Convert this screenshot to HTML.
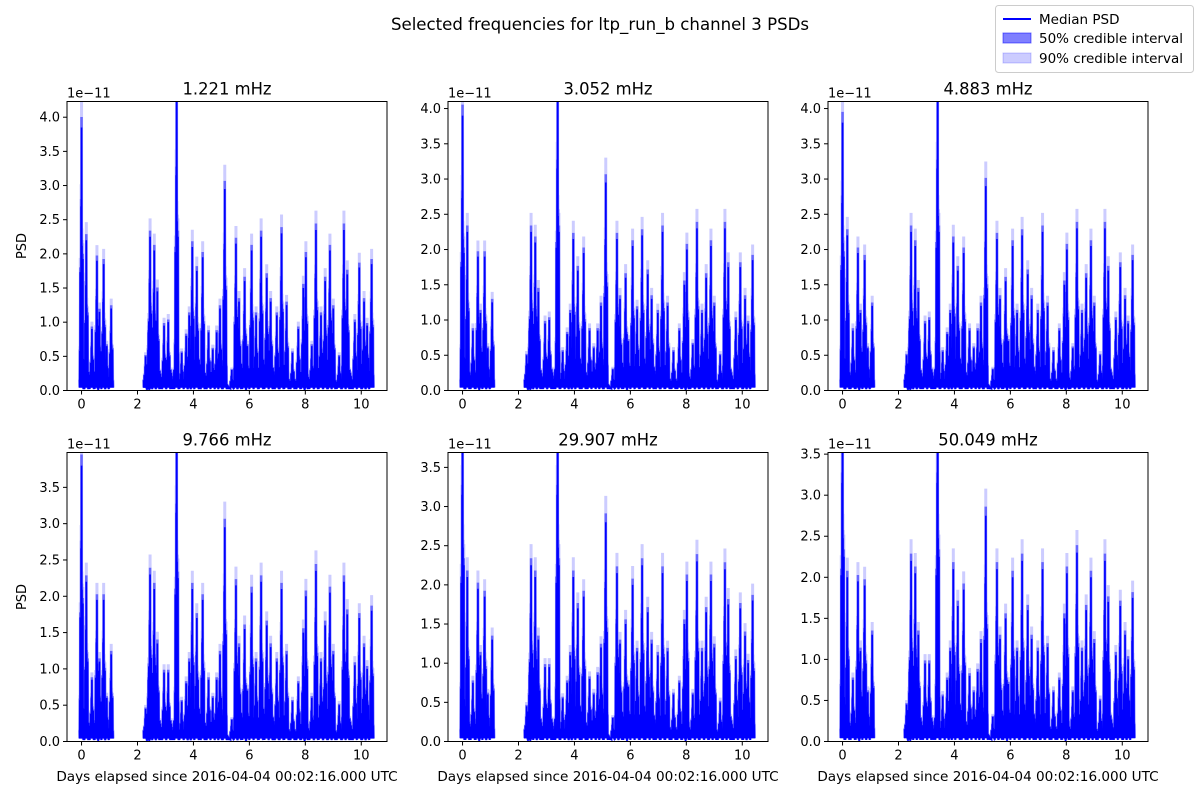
<!DOCTYPE html>
<html><head><meta charset="utf-8">
<style>
body{margin:0;background:#fff;font-family:"Liberation Sans","DejaVu Sans",sans-serif;}
svg text{font-family:"DejaVu Sans","Liberation Sans",sans-serif;fill:#000;}
</style></head>
<body>
<svg id="fig" width="1200" height="800" viewBox="0 0 1200 800" xmlns="http://www.w3.org/2000/svg">
<rect width="1200" height="800" fill="#fff"/>
<text x="600" y="30" font-size="16.6" text-anchor="middle">Selected frequencies for ltp_run_b channel 3 PSDs</text>
<g>
<rect x="995.5" y="5.5" width="198" height="67" rx="3" fill="#fff" stroke="#ccc"/>
<line x1="1003" y1="19" x2="1031" y2="19" stroke="#0000ff" stroke-width="2"/>
<text x="1039" y="24" font-size="13.5">Median PSD</text>
<rect x="1003" y="33" width="28" height="10" fill="#0000ff" fill-opacity="0.5" stroke="#0000ff" stroke-opacity="0.5"/>
<text x="1039" y="43" font-size="13.5">50% credible interval</text>
<rect x="1003" y="53" width="28" height="10" fill="#0000ff" fill-opacity="0.2" stroke="#0000ff" stroke-opacity="0.2"/>
<text x="1039" y="63" font-size="13.5">90% credible interval</text>
</g>
<g id="panels"></g>
</svg>
<script>
const titles=["1.221 mHz","3.052 mHz","4.883 mHz","9.766 mHz","29.907 mHz","50.049 mHz"];
const yMax=[4.23,4.1,4.1,3.98,3.69,3.52];
const xTicks=[0,2,4,6,8,10];
const yTicks=[0,0.5,1,1.5,2,2.5,3,3.5,4];
const times=[0,0.17,0.37,0.55,0.64,0.79,0.9,1.06,2.29,2.39,2.45,2.6,2.71,2.95,3.1,3.4,3.58,3.74,3.85,3.96,4.12,4.33,4.54,4.69,4.83,4.95,5.12,5.37,5.52,5.63,5.83,5.93,6.08,6.24,6.42,6.62,6.76,6.98,7.15,7.33,7.54,7.75,7.93,8.02,8.23,8.38,8.56,8.71,8.88,9.0,9.21,9.38,9.5,9.77,9.93,10.1,10.21,10.37];
const med1=[3.85,2.2,0.9,1.9,1.15,1.85,0.65,1.2,0.5,0.85,2.25,2.05,1.45,0.95,1.0,4.5,0.55,0.8,1.1,2.1,1.75,1.95,0.85,0.6,0.85,1.2,2.95,0.3,2.15,1.3,1.6,0.65,2.05,1.1,2.25,1.65,1.3,1.1,2.3,1.25,0.55,0.9,1.5,1.95,0.65,2.35,1.1,1.6,2.05,1.2,0.5,2.35,1.7,1.0,1.8,1.3,0.95,1.85];
const med2=[3.9,2.25,0.85,1.9,1.1,1.9,0.6,1.25,0.5,0.85,2.25,2.1,1.4,0.95,1.0,4.5,0.55,0.8,1.1,2.15,1.7,1.95,0.85,0.6,0.85,1.2,2.95,0.3,2.15,1.3,1.6,0.7,2.05,1.15,2.2,1.65,1.3,1.1,2.25,1.2,0.55,0.85,1.5,2.0,0.65,2.3,1.1,1.6,2.05,1.2,0.5,2.3,1.75,1.0,1.75,1.3,0.95,1.85];
const med3=[3.8,2.2,0.85,1.95,1.1,1.85,0.6,1.2,0.5,0.85,2.25,2.05,1.4,0.95,1.0,4.5,0.55,0.8,1.1,2.1,1.7,1.95,0.85,0.6,0.85,1.2,2.9,0.3,2.15,1.3,1.55,0.7,2.05,1.1,2.2,1.65,1.3,1.1,2.25,1.2,0.55,0.85,1.5,2.0,0.6,2.3,1.1,1.6,2.05,1.2,0.5,2.3,1.7,1.0,1.75,1.3,0.95,1.85];
const med4=[3.8,2.2,0.85,1.95,1.1,1.95,0.6,1.2,0.45,0.85,2.3,2.1,1.35,0.95,0.95,4.5,0.55,0.8,1.1,2.1,1.7,1.95,0.85,0.6,0.85,1.2,2.95,0.3,2.15,1.3,1.55,0.7,2.05,1.1,2.2,1.6,1.3,1.1,2.1,1.2,0.55,0.8,1.5,2.0,0.6,2.35,1.1,1.6,2.05,1.2,0.5,2.2,1.75,1.05,1.7,1.3,1.0,1.8];
const med5=[4.5,2.1,0.75,1.95,1.1,1.85,0.6,1.3,0.45,0.85,2.25,2.1,1.3,0.95,0.95,4.5,0.55,0.75,1.1,2.1,1.7,1.85,0.8,0.6,0.85,1.2,2.8,0.3,2.15,1.25,1.5,0.7,2.0,1.15,2.25,1.65,1.25,1.1,2.15,1.15,0.6,0.75,1.5,2.05,0.6,2.3,1.15,1.65,2.05,1.2,0.5,2.2,1.75,1.05,1.7,1.35,1.0,1.8];
const med6=[4.5,2.0,0.75,1.95,1.1,1.9,0.6,1.3,0.45,0.85,2.2,2.05,1.3,0.95,0.95,4.5,0.55,0.75,1.1,2.1,1.65,1.85,0.8,0.6,0.85,1.2,2.75,0.3,2.1,1.25,1.5,0.7,2.0,1.1,2.2,1.6,1.25,1.1,2.1,1.15,0.6,0.75,1.5,2.05,0.6,2.3,1.1,1.6,2.0,1.2,0.5,2.2,1.7,1.05,1.65,1.3,1.0,1.75];
const meds=[med1,med2,med3,med4,med5,med6];
const xMin=-0.52,xMax=10.92,W=320,H=289;
const lefts=[67,448,828], tops=[101.5,452.5];
// cluster shape around each peak (offset in days, fraction of peak height)
const clusterOff=[-0.06,-0.045,-0.03,-0.015,0,0.015,0.03,0.045,0.06];
const clusterFrac=[0.15,0.45,0.2,0.7,1,0.55,0.3,0.5,0.12];
const NS="http://www.w3.org/2000/svg";
const root=document.getElementById('panels');
function mk(tag,attrs,parent){const e=document.createElementNS(NS,tag);for(const k in attrs)e.setAttribute(k,attrs[k]);parent.appendChild(e);return e;}
meds.forEach((med,p)=>{
  const L=lefts[p%3],T=tops[Math.floor(p/3)];
  const sx=v=>L+(v-xMin)/(xMax-xMin)*W;
  const sy=v=>T+H-v/yMax[p]*H;
  const g=mk('g',{},root);
  
  
  const cid='clip'+p;
  const cp=mk('clipPath',{id:cid},g);mk('rect',{x:L,y:T,width:W,height:H},cp);
  const plot=mk('g',{'clip-path':'url(#'+cid+')'},g);
  function pathFor(scale){
    let d='';
    for(let i=0;i<times.length;i++){
      const t=times[i],v=med[i]*scale;
      const newSeg=(i===0)||(t-times[i-1]>0.8);
      if(newSeg){d+='M'+sx(t-0.07)+','+sy(0.15*scale);}
      else{
        const a=times[i-1]+0.06,b=t-0.06,n=Math.max(2,Math.round((b-a)/0.012));
        const base=Math.min(0.45,0.3*Math.min(med[i],med[i-1]));
        for(let k=1;k<n;k++){const tt=a+(b-a)*k/n;const lv=(k%2?0.02:base*(0.4+0.6*((k*7)%5)/4))*scale;d+='L'+sx(tt)+','+sy(lv);}
      }
      for(let k=0;k<clusterOff.length;k++){
        d+='L'+sx(t+clusterOff[k]-0.006)+','+sy(0.04*scale)+'L'+sx(t+clusterOff[k])+','+sy(Math.min(v*clusterFrac[k],v));
      }
      d+='L'+sx(t+0.066)+','+sy(0.04*scale);
    }
    return d;
  }
  const b90=mk('path',{d:pathFor(1.12),fill:'none',stroke:'#0000ff','stroke-opacity':0.2,'stroke-width':3},plot);
  
  
  const b50=mk('path',{d:pathFor(1.04),fill:'none',stroke:'#0000ff','stroke-opacity':0.5,'stroke-width':2.5},plot);
  
  
  const ln=mk('path',{d:pathFor(1),fill:'none',stroke:'#0000ff','stroke-width':1.6},plot);
  
  
  const fr=mk('rect',{x:L,y:T,width:W,height:H,fill:'none',stroke:'#000','stroke-width':1},g);
  
  
  xTicks.forEach(v=>{const x=sx(v);mk('line',{x1:x,y1:T+H,x2:x,y2:T+H+4,stroke:'#000'},g);
    const tx=mk('text',{x:x,y:T+H+18,'font-size':13,'text-anchor':'middle'},g);tx.textContent=v;
    
    });
  yTicks.filter(v=>v<=yMax[p]).forEach(v=>{const y=sy(v);mk('line',{x1:L-4,y1:y,x2:L,y2:y,stroke:'#000'},g);
    const tx=mk('text',{x:L-7,y:y+4.5,'font-size':13,'text-anchor':'end'},g);tx.textContent=v.toFixed(1);
    
    });
  const off=mk('text',{x:L,y:T-4,'font-size':13},g);off.textContent='1e\u221211';
  
  
  const ti=mk('text',{x:L+W/2,y:T-7,'font-size':16.4,'text-anchor':'middle'},g);ti.textContent=titles[p];
  
  
  if(p%3===0){const yl=mk('text',{x:0,y:0,'font-size':13,'text-anchor':'middle',transform:'translate(26,'+(T+H/2)+') rotate(-90)'},g);yl.textContent='PSD';
    
    }
  if(p>=3){const xl=mk('text',{x:L+W/2,y:781,'font-size':13.6,'text-anchor':'middle'},g);xl.textContent='Days elapsed since 2016-04-04 00:02:16.000 UTC';
    
    }
});
</script>
</body></html>
